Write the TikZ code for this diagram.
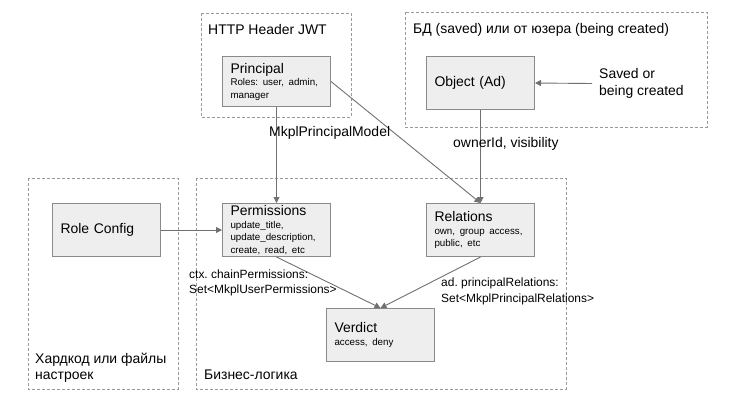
\documentclass[tikz,border=0pt]{standalone}
\usepackage{fontspec}
\setmainfont{Liberation Sans}
\usetikzlibrary{arrows.meta}
\definecolor{boxfill}{HTML}{EEEEEE}
\definecolor{boxline}{HTML}{8A8A8A}
\definecolor{wirecol}{HTML}{707070}
\definecolor{groupline}{HTML}{9A9A9A}
\newcommand{\bigf}{\fontsize{14}{16}\selectfont}
\newcommand{\midf}{\fontsize{12}{15.5}\selectfont}
\newcommand{\smallf}{\fontsize{9.8}{12.5}\selectfont}
\frenchspacing
\tikzset{
  group/.style={draw=groupline, dash pattern=on 3bp off 2bp, line width=0.8bp},
  block/.style={draw=boxline, fill=boxfill, line width=1bp, anchor=north west,
    minimum width=108bp, minimum height=53bp, text width=92bp, inner xsep=8bp,
    inner ysep=0pt, align=left, font=\bigf},
  wire/.style={draw=wirecol, line width=0.9bp, -{Triangle[length=6bp,width=6bp]}},
  caption/.style={anchor=west, inner sep=0pt, align=left, font=\bigf},
}

\begin{document}
\begin{tikzpicture}[x=1bp, y=1bp, yscale=-1]
  \useasboundingbox (0,0) rectangle (738,402);

  % dashed areas
  \path[group] (201,13) rectangle (351,117);
  \path[group] (405,12) rectangle (707,127);
  \path[group] (28,178) rectangle (178,389);
  \path[group] (196,178) rectangle (566,389);

  \node[caption] (jwtlabel) at (208,30) {HTTP Header JWT};
  \node[caption] (dblabel) at (413,30) {БД (saved) или от юзера (being created)};
  \node[caption] (cfglabel) at (35,368) {Хардкод или файлы\\настроек};
  \node[caption] (bizlabel) at (204,375) {Бизнес-логика};

  % blocks
  \node[block, minimum height=50bp] (principal) at (222,56)
    {Principal\par{\smallf Roles: user, admin,\\manager\par}};
  \node[block] (object) at (426,56) {Object (Ad)};
  \node[block] (roleconfig) at (52,203) {Role Config};
  \node[block] (permissions) at (222,203)
    {Permissions\par{\smallf update\_title,\\update\_description,\\create, read, etc\par}};
  \node[block] (relations) at (426,203)
    {Relations\par{\smallf own, group access,\\public, etc\par}};
  \node[block] (verdict) at (326,308)
    {Verdict\par{\smallf access, deny\par}};

  \node[caption, font=\fontsize{14}{17}\selectfont] (saved) at (599,83.5)
    {Saved or\\being created};

  % connectors
  \draw[wire] ([xshift=-7bp]saved.west) -- (object.east);
  \draw[wire] (principal.south) -- (permissions.north);
  \draw[wire] (principal.east) -- (relations.north);
  \draw[wire] (object.south) -- (relations.north);
  \draw[wire] (roleconfig.east) -- (permissions.west);
  \draw[wire] (permissions.south) -- (verdict.north);
  \draw[wire] (relations.south) -- (verdict.north);

  % connector texts
  \node[caption] (modellabel) at (269,133) {MkplPrincipalModel};
  \node[caption] (ownerlabel) at (453,144) {ownerId, visibility};
  \node[caption, font=\midf] (ctxlabel) at (189,283)
    {ctx. chainPermissions:\\Set<MkplUserPermissions>};
  \node[caption, font=\midf] (adlabel) at (441,291.5)
    {ad. principalRelations:\\Set<MkplPrincipalRelations>};
\end{tikzpicture}
\end{document}
